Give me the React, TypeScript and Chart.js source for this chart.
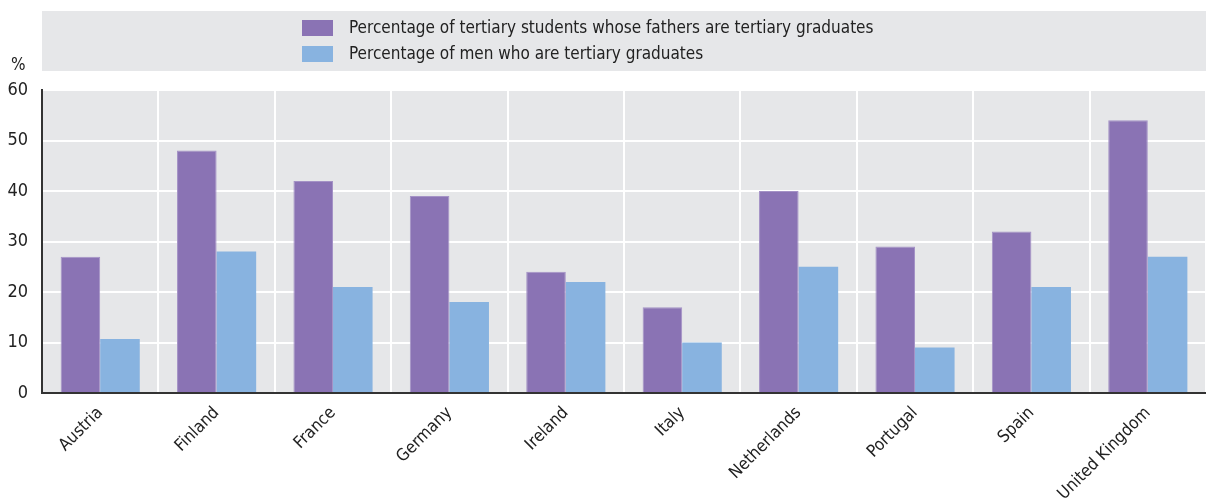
import React, { useEffect, useRef } from "react";
import { Chart, registerables } from "chart.js";

Chart.register(...registerables);

const categories = ["Austria", "Finland", "France", "Germany", "Ireland", "Italy", "Netherlands", "Portugal", "Spain", "United Kingdom"];
const fathersTertiary = [27, 48, 42, 39, 24, 17, 40, 29, 32, 54];
const menTertiary = [10.7, 28, 21, 18, 22, 10, 25, 9, 21, 27];
const seriesLabels = [
  "Percentage of tertiary students whose fathers are tertiary graduates",
  "Percentage of men who are tertiary graduates",
];
const yTicks = [0, 10, 20, 30, 40, 50, 60];

const FONT = "'Liberation Sans Narrow', 'DejaVu Sans Condensed', 'Arial Narrow', sans-serif";
const PURPLE = "#8a73b4";
const BLUE = "#88b3e0";
const BG = "#e6e7e9";

const decorPlugin = {
  id: "decor",
  beforeDraw(chart: any) {
    const { ctx, chartArea } = chart;
    ctx.save();
    ctx.fillStyle = BG;
    ctx.fillRect(chartArea.left, 11, chart.width - chartArea.left, 60);
    ctx.fillRect(chartArea.left, chartArea.top, chartArea.right - chartArea.left, chartArea.bottom - chartArea.top);
    ctx.restore();
  },
  afterDraw(chart: any) {
    const { ctx } = chart;
    ctx.save();
    const ds = chart.data.datasets;
    ctx.font = `17px ${FONT}`;
    ctx.textBaseline = "middle";
    ctx.textAlign = "left";
    ds.forEach((d: any, i: number) => {
      const y = 28 + i * 26;
      ctx.fillStyle = d.backgroundColor;
      ctx.fillRect(302, y - 8, 31, 16);
      ctx.fillStyle = "#222";
      ctx.fillText(d.label, 349, y + 1);
    });
    ctx.font = `17px ${FONT}`;
    ctx.fillStyle = "#222";
    ctx.fillText("%", 11, 66);
    ctx.restore();
  },
};

export default function App() {
  const ref = useRef<HTMLCanvasElement>(null);
  useEffect(() => {
    document.body.style.margin = "0";
    const chart = new Chart(ref.current!, {
      type: "bar",
      data: {
        labels: categories,
        datasets: [
          { label: seriesLabels[0], data: fathersTertiary, backgroundColor: PURPLE, borderColor: "#a492c6", borderWidth: 1, categoryPercentage: 0.68, barPercentage: 1 },
          { label: seriesLabels[1], data: menTertiary, backgroundColor: BLUE, borderWidth: 0, categoryPercentage: 0.68, barPercentage: 1 },
        ],
      },
      options: {
        animation: false,
        responsive: false,
        layout: { padding: { top: 90, right: 0, left: 0, bottom: 0 } },
        plugins: { legend: { display: false }, tooltip: { enabled: false } },
        scales: {
          x: {
            afterFit: (s: any) => { s.height = 105; },
            grid: { color: "#ffffff", lineWidth: 2, offset: true, drawTicks: false },
            border: { color: "#333", width: 2 },
            ticks: { font: { family: FONT, size: 17 }, color: "#222", maxRotation: 45, minRotation: 45, padding: 10 },
          },
          y: {
            min: 0,
            max: 60,
            afterBuildTicks: (s: any) => { s.ticks = yTicks.map((v) => ({ value: v })); },
            afterFit: (s: any) => { s.width = 42; },
            grid: { color: "#ffffff", lineWidth: 2, tickLength: 8, tickColor: "#ffffff" },
            border: { color: "#333", width: 2 },
            ticks: { font: { family: FONT, size: 18 }, color: "#222", padding: 6 },
          },
        },
      },
      plugins: [decorPlugin],
    });
    return () => chart.destroy();
  }, []);
  return <canvas ref={ref} width={1206} height={498} style={{ display: "block" }} />;
}
